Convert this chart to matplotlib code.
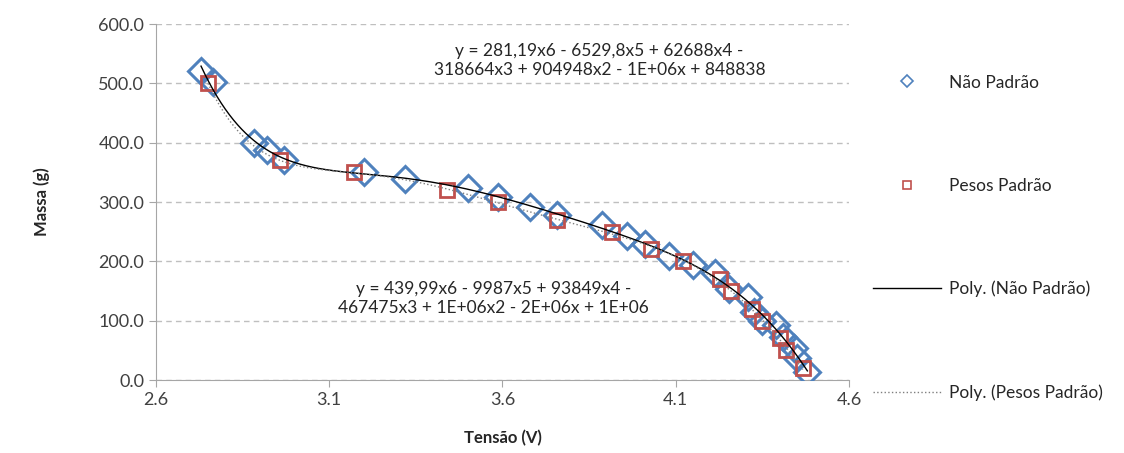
import numpy as np
import matplotlib
matplotlib.use('Agg')
import matplotlib.pyplot as plt
from matplotlib.lines import Line2D

# Não Padrão (losangos azuis)
v_nao = [2.73, 2.764, 2.882, 2.92, 2.969, 3.20, 3.32, 3.50, 3.588, 3.678, 3.758,
         3.888, 3.96, 4.01, 4.08, 4.15, 4.214, 4.254, 4.31, 4.326, 4.35, 4.39,
         4.41, 4.44, 4.45, 4.48]
m_nao = [521, 502, 400, 388, 371, 351, 339, 323, 308, 291, 278,
         261, 243, 229, 209, 194, 180, 153, 140, 115, 100, 93,
         72, 54, 37, 14]

# Pesos Padrão (quadrados vermelhos)
v_pes = [2.75, 2.957, 3.17, 3.44, 3.588, 3.758, 3.917, 4.03, 4.12, 4.228,
         4.26, 4.32, 4.349, 4.40, 4.418, 4.467]
m_pes = [500, 370, 350, 320, 300, 270, 250, 220, 200, 170,
         150, 120, 100, 70, 50, 20]

eq_nao = "y = 281,19x6 - 6529,8x5 + 62688x4 -\n318664x3 + 904948x2 - 1E+06x + 848838"
eq_pes = "y = 439,99x6 - 9987x5 + 93849x4 -\n467475x3 + 1E+06x2 - 2E+06x + 1E+06"

plt.rcParams['font.family'] = ['Lato', 'DejaVu Sans']
BLUE, RED, GRID = '#4F81BD', '#C0504D', '#A6A6A6'

fig = plt.figure(figsize=(11.24, 4.53), dpi=100)
ax = fig.add_axes([0.1388, 0.1611, 0.6165, 0.7859])

ax.plot(v_nao, m_nao, ls='none', marker='D', ms=13, mfc='none', mec=BLUE, mew=2.2,
        label='Não Padrão', zorder=3)
ax.plot(v_pes, m_pes, ls='none', marker='s', ms=10, mfc='none', mec=RED, mew=2.0,
        label='Pesos Padrão', zorder=4)

# linhas de tendência polinomiais (grau 6)
for vx, my, st in [(v_nao, m_nao, dict(color='black', lw=1.0, ls='-')),
                   (v_pes, m_pes, dict(color='#7F7F7F', lw=1.0, ls=':'))]:
    p = np.polyfit(vx, my, 6)
    xx = np.linspace(min(vx), max(vx), 300)
    ax.plot(xx, np.polyval(p, xx), zorder=5, **st)

ax.set_xlim(2.6, 4.6)
ax.set_ylim(0, 600)
ax.set_xticks([2.6, 3.1, 3.6, 4.1, 4.6])
ax.set_xticklabels(['2.6', '3.1', '3.6', '4.1', '4.6'])
ax.set_yticks(np.arange(0, 601, 100))
ax.set_yticklabels([f'{v:.1f}' for v in np.arange(0, 601, 100)])
ax.tick_params(colors=GRID, labelcolor='#404040', labelsize=13, length=5)
ax.yaxis.grid(True, ls=(0, (4, 3)), color='#BFBFBF', lw=1)
ax.set_axisbelow(True)
for s in ['top', 'right']:
    ax.spines[s].set_visible(False)
for s in ['left', 'bottom']:
    ax.spines[s].set_color(GRID)

ax.set_xlabel('Tensão (V)', fontsize=12, fontweight='bold', color='#262626', labelpad=16)
ax.set_ylabel('Massa (g)', fontsize=12, fontweight='bold', color='#262626', labelpad=35)

ax.text(3.88, 538, eq_nao, ha='center', va='center', fontsize=12.5, color='#262626',
        linespacing=1.25)
ax.text(3.575, 137, eq_pes, ha='center', va='center', fontsize=12.5, color='#262626',
        linespacing=1.25)

# legenda à direita
handles = [Line2D([], [], ls='none', marker='D', ms=6, mfc='none', mec=BLUE, mew=1.2),
           Line2D([], [], ls='none', marker='s', ms=6, mfc='none', mec=RED, mew=1.2),
           Line2D([], [], color='black', lw=1.0),
           Line2D([], [], color='#7F7F7F', lw=1.0, ls=':')]
labels = ['Não Padrão', 'Pesos Padrão', 'Poly. (Não Padrão)', 'Poly. (Pesos Padrão)']
fig.legend(handles, labels, loc='upper left', bbox_to_anchor=(0.763, 0.87),
           frameon=False, fontsize=12.5, labelspacing=5.02, handlelength=3.9,
           handletextpad=0.45, labelcolor='#262626')

fig.savefig('out.png', dpi=100)
